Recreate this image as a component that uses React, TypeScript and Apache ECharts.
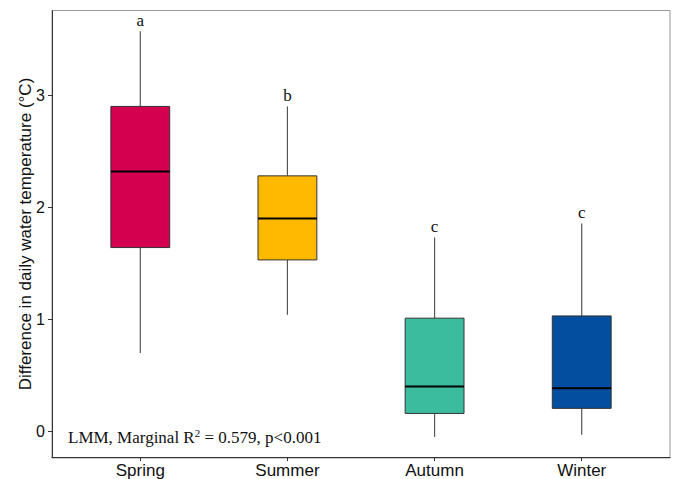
import React, { useEffect, useRef } from "react";
import * as echarts from "echarts";

const categories = ["Spring", "Summer", "Autumn", "Winter"];
const whiskerLow = [0.7, 1.04, -0.05, -0.03];
const q1 = [1.64, 1.53, 0.16, 0.205];
const median = [2.32, 1.9, 0.4, 0.385];
const q3 = [2.9, 2.28, 1.01, 1.03];
const whiskerHigh = [3.57, 2.9, 1.73, 1.855];
const letters = ["a", "b", "c", "c"];
const boxColors = ["#D4004F", "#FFBA00", "#3CBC9F", "#034E9E"];
const yTicks = [0, 1, 2, 3];
const xPositions = [1, 2, 3, 4];

export default function App() {
  const ref = useRef<HTMLDivElement>(null);
  useEffect(() => {
    if (!ref.current) return;
    const chart = echarts.init(ref.current, undefined, { renderer: "svg" });
    const data = categories.map((_, i) => [
      xPositions[i],
      whiskerLow[i],
      q1[i],
      median[i],
      q3[i],
      whiskerHigh[i],
    ]);
    const sans = "Liberation Sans, Arial, sans-serif";
    const serif = "Liberation Serif, Times New Roman, serif";
    chart.setOption({
      animation: false,
      backgroundColor: "#fff",
      grid: { left: 52, right: 6, top: 10.7, bottom: 21 },
      xAxis: {
        type: "value",
        min: 0.4,
        max: 4.6,
        splitLine: { show: false },
        axisLine: { show: true, onZero: false, lineStyle: { color: "#333", width: 1 } },
        axisTick: { show: true, customValues: xPositions, length: 4, lineStyle: { color: "#333" } },
        axisLabel: {
          customValues: xPositions,
          formatter: (v: number) => categories[Math.round(v) - 1] ?? "",
          fontSize: 17,
          fontFamily: sans,
          color: "#111",
          margin: 5,
        },
      },
      yAxis: {
        type: "value",
        min: -0.229,
        max: 3.754,
        splitLine: { show: false },
        axisLine: { show: true, onZero: false, lineStyle: { color: "#333", width: 1 } },
        axisTick: { show: true, customValues: yTicks, length: 4, lineStyle: { color: "#333" } },
        axisLabel: {
          customValues: yTicks,
          fontSize: 16,
          fontFamily: sans,
          color: "#111",
          margin: 7,
        },
      },
      graphic: [
        {
          type: "rect",
          z: -1,
          shape: { x: 52, y: 10.5, width: 618, height: 447.5 },
          style: { fill: "none", stroke: "#999", lineWidth: 1 },
        },
        {
          type: "text",
          x: 25,
          y: 234,
          rotation: Math.PI / 2,
          style: {
            text: "Difference in daily water temperature (°C)",
            fontSize: 17,
            fontFamily: sans,
            fill: "#111",
            textAlign: "center",
            textVerticalAlign: "middle",
          },
        },
        {
          type: "text",
          x: 68,
          y: 437,
          style: {
            text: "{n|LMM, Marginal R}{s|2}{n| = 0.579, p<0.001}",
            textAlign: "left",
            textVerticalAlign: "middle",
            rich: {
              n: { fontSize: 17, fontFamily: serif, fill: "#111", lineHeight: 20 },
              s: { fontSize: 11, fontFamily: serif, fill: "#111", lineHeight: 12, verticalAlign: "top" },
            },
          },
        },
      ],
      series: [
        {
          type: "custom",
          data,
          encode: { x: 0, y: [1, 2, 3, 4, 5] },
          renderItem: (params: any, api: any) => {
            const idx = params.dataIndex;
            const x = api.value(0);
            const pMin = api.coord([x, api.value(1)]);
            const pQ1 = api.coord([x, api.value(2)]);
            const pMed = api.coord([x, api.value(3)]);
            const pQ3 = api.coord([x, api.value(4)]);
            const pMax = api.coord([x, api.value(5)]);
            const w = api.size([0.4, 0])[0];
            const cx = pMed[0];
            return {
              type: "group",
              children: [
                {
                  type: "line",
                  shape: { x1: cx, y1: pMax[1], x2: cx, y2: pQ3[1] },
                  style: { stroke: "#555", lineWidth: 1.2 },
                },
                {
                  type: "line",
                  shape: { x1: cx, y1: pQ1[1], x2: cx, y2: pMin[1] },
                  style: { stroke: "#555", lineWidth: 1.2 },
                },
                {
                  type: "rect",
                  shape: { x: cx - w / 2, y: pQ3[1], width: w, height: pQ1[1] - pQ3[1] },
                  style: { fill: boxColors[idx], stroke: "#333", lineWidth: 1 },
                },
                {
                  type: "line",
                  shape: { x1: cx - w / 2, y1: pMed[1], x2: cx + w / 2, y2: pMed[1] },
                  style: { stroke: "#000", lineWidth: 2 },
                },
                {
                  type: "text",
                  x: cx,
                  y: pMax[1] - 11,
                  style: {
                    text: letters[idx],
                    fontSize: 17,
                    fontFamily: serif,
                    fill: "#111",
                    textAlign: "center",
                    textVerticalAlign: "middle",
                  },
                },
              ],
            };
          },
        },
      ],
    });
    return () => chart.dispose();
  }, []);
  return (
    <div
      ref={ref}
      style={{ position: "fixed", left: 0, top: 0, width: 676, height: 479 }}
    />
  );
}
